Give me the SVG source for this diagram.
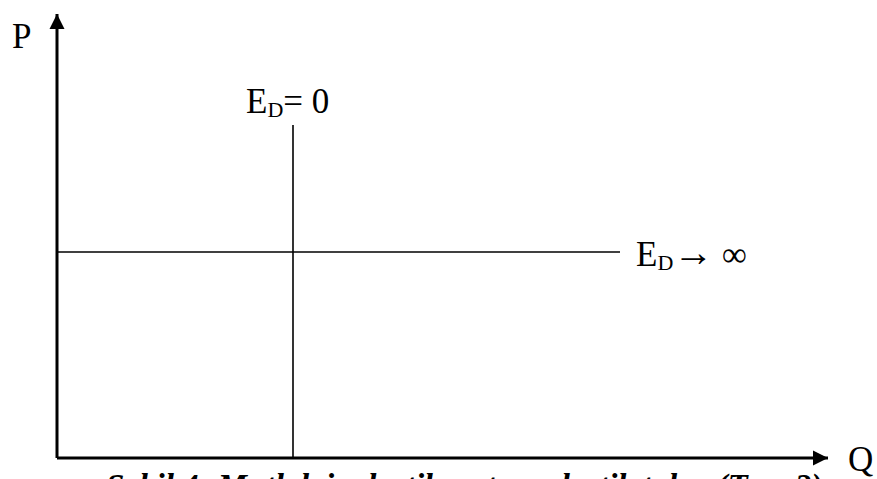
<svg xmlns="http://www.w3.org/2000/svg" width="877" height="479" viewBox="0 0 877 479">
<style>
.t{font-family:"Liberation Serif","Times New Roman",serif;fill:#000}
.ax{stroke:#000;stroke-width:3;fill:none}
.ln{stroke:#000;stroke-width:1.6;fill:none}
</style>
<defs>
<marker id="ah" markerWidth="16" markerHeight="16" refX="0" refY="0" viewBox="-15 -8 16 16" markerUnits="userSpaceOnUse" orient="auto">
<path d="M-15,-7.5 L0,0 L-15,7.5 Z" fill="#000"/>
</marker>
</defs>
<rect width="877" height="479" fill="#fff"/>
<g id="connectors">
<path id="p-axis" class="ax" d="M57,458 L57,14" marker-end="url(#ah)"/>
<path id="q-axis" class="ax" d="M57,458 L828,458" marker-end="url(#ah)"/>
<path id="inelastic" class="ln" d="M293,125 L293,458"/>
<path id="elastic" class="ln" d="M57,252 L620,252"/>
</g>
<g id="label-p"><text class="t" x="12" y="48" font-size="35">P</text></g>
<g id="label-q"><text class="t" x="848" y="471" font-size="35">Q</text></g>
<g id="label-ed0"><text class="t" x="246" y="113" font-size="35">E<tspan font-size="22" dy="4">D</tspan><tspan dy="-4">= 0</tspan></text></g>
<g id="label-edinf"><text class="t" x="636" y="266" font-size="35">E<tspan font-size="22" dy="4">D</tspan><tspan dy="-4" font-size="40">→</tspan><tspan> ∞</tspan></text></g>
<g id="caption"><text class="t" x="106" y="497" font-size="33" font-weight="bold" font-style="italic">Şekil 4: Mutlak inelastik ve tam elastik talep (Tam ?)</text></g>
</svg>
